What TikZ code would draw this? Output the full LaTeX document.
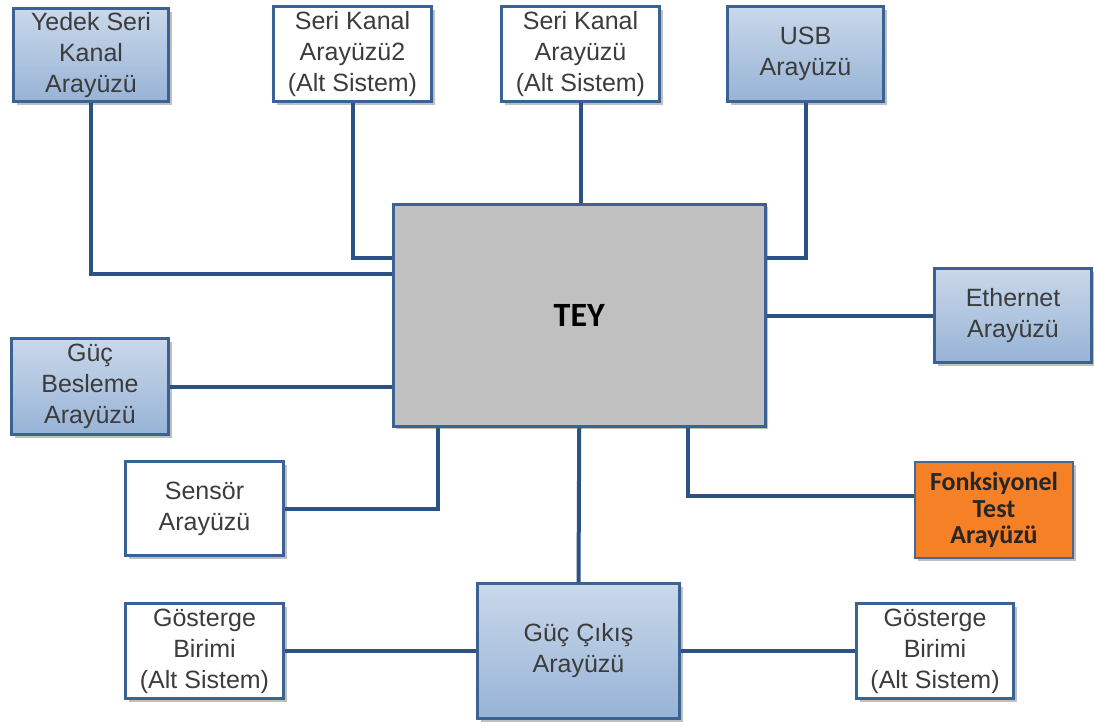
\documentclass[tikz,border=0pt]{standalone}
\usepackage{fontspec}
\setmainfont{Liberation Sans}
\newfontfamily\carlitofont{Carlito}
\usetikzlibrary{shadows}
\definecolor{connc}{HTML}{2B5283}
\definecolor{boxb}{HTML}{3A6293}
\definecolor{blueA}{HTML}{CAD8EA}
\definecolor{blueB}{HTML}{97B3D6}
\definecolor{txt}{HTML}{3C3C3C}
\definecolor{teyfill}{HTML}{C0C0C0}
\definecolor{orangef}{HTML}{F68026}
\tikzset{
  basebox/.style={draw=boxb, line width=3pt, anchor=north west, align=center,
    inner sep=0pt, text=txt, font=\fontsize{25}{31}\selectfont,
    drop shadow={shadow xshift=3pt, shadow yshift=-3pt, fill=black, opacity=0.25}},
  bluebox/.style={basebox, top color=blueA, bottom color=blueB},
  whitebox/.style={basebox, fill=white},
  conn/.style={draw=connc, line width=4pt},
}
\begin{document}
\begin{tikzpicture}[x=1pt,y=-1pt]
\useasboundingbox (0,0) rectangle (1094,726);
% nodes
\node[bluebox, minimum width=155pt, minimum height=93pt] (yedek) at (12,7) {Yedek Seri\\Kanal\\Arayüzü};
\node[whitebox, minimum width=158pt, minimum height=95pt] (seri2) at (272,5) {Seri Kanal\\Arayüzü2\\(Alt Sistem)};
\node[whitebox, minimum width=158pt, minimum height=95pt] (seri) at (500,5) {Seri Kanal\\Arayüzü\\(Alt Sistem)};
\node[bluebox, minimum width=156pt, minimum height=95pt] (usb) at (726,5) {USB\\Arayüzü};
\node[basebox, fill=teyfill, line width=2.5pt, minimum width=372pt, minimum height=222pt, text=black, font=\carlitofont\bfseries\fontsize{34}{38}\selectfont] (tey) at (392,203) {TEY};
\node[bluebox, minimum width=157pt, minimum height=94pt] (eth) at (933,267) {Ethernet\\Arayüzü};
\node[bluebox, minimum width=157pt, minimum height=96pt] (gucb) at (10,337) {Güç\\Besleme\\Arayüzü};
\node[whitebox, minimum width=158pt, minimum height=94pt] (sensor) at (124,460) {Sensör\\Arayüzü};
\node[basebox, fill=orangef, draw=boxb!80!gray, line width=2pt, minimum width=158pt, minimum height=96pt, text=black!85, font=\carlitofont\bfseries\fontsize{26}{26.5}\selectfont] (fonk) at (914,461) {Fonksiyonel\\Test\\Arayüzü};
\node[bluebox, minimum width=202pt, minimum height=135pt] (gucc) at (476,582) {Güç Çıkış\\Arayüzü};
\node[whitebox, minimum width=158pt, minimum height=95pt] (gos1) at (124,602) {Gösterge\\Birimi\\(Alt Sistem)};
\node[whitebox, minimum width=157pt, minimum height=95pt] (gos2) at (855,602) {Gösterge\\Birimi\\(Alt Sistem)};
% connectors
\draw[conn] (yedek.south) |- ([yshift=41pt]tey.west);
\draw[conn] (seri2.south) |- ([yshift=57pt]tey.west);
\draw[conn] (seri.south) -- (seri.south |- tey.north);
\draw[conn] (usb.south) |- ([yshift=57pt]tey.east);
\draw[conn] (eth.west -| tey.east) -- (eth.west);
\draw[conn] (gucb.east) -- (gucb.east -| tey.west);
\draw[conn] (sensor.east) -| ([xshift=-141pt]tey.south);
\draw[conn] ([yshift=14pt]fonk.west) -| ([xshift=109pt]tey.south);
\draw[conn] (tey.south) -- (gucc.north);
\draw[conn] (gos1.east) -- (gucc.west);
\draw[conn] (gucc.east) -- (gos2.west);
\end{tikzpicture}
\end{document}
